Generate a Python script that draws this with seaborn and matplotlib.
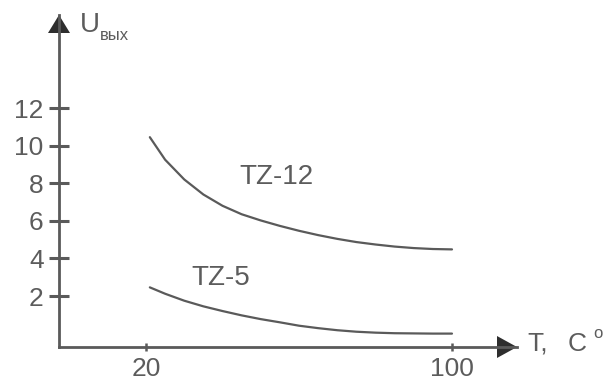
import matplotlib
matplotlib.use("Agg")
import matplotlib.pyplot as plt
from matplotlib.patches import Polygon
import seaborn as sns
import pandas as pd

# ---- data ----
temps = [21, 25, 30, 35, 40, 45, 50, 55, 60, 65, 70, 75, 80, 85, 90, 95, 100]
u_tz12 = [10.45, 9.25, 8.2, 7.4, 6.8, 6.35, 6.02, 5.73, 5.47, 5.24, 5.04, 4.87,
          4.74, 4.63, 4.55, 4.5, 4.48]
u_tz5 = [2.46, 2.12, 1.75, 1.45, 1.2, 0.97, 0.77, 0.6, 0.42, 0.29, 0.18, 0.1,
         0.05, 0.02, 0.01, 0.0, 0.0]
series_names = ["TZ-12", "TZ-5"]
y_ticks = [2, 4, 6, 8, 10, 12]
x_ticks = [20, 100]

df = pd.concat([
    pd.DataFrame({"T": temps, "U": u_tz12, "series": series_names[0]}),
    pd.DataFrame({"T": temps, "U": u_tz5, "series": series_names[1]}),
])

sns.set_style("white")
plt.rcParams["font.family"] = ["Liberation Sans", "DejaVu Sans"]

W, H = 609, 384
fig = plt.figure(figsize=(W / 100, H / 100), dpi=100)
ax = fig.add_axes([59 / W, 37 / H, 458 / W, 332 / H])

line_col = "#5a5a5a"
text_col = "#5c5c5c"

sns.lineplot(data=df, x="T", y="U", hue="series", units="series", estimator=None,
             palette={series_names[0]: line_col, series_names[1]: line_col},
             linewidth=1.6, legend=False, ax=ax, sort=False)

ax.set_xlim(-2.75, 117.0)
ax.set_ylim(-0.713, 16.95)
ax.set_xlabel("")
ax.set_ylabel("")

for s in ["top", "right"]:
    ax.spines[s].set_visible(False)
for s in ["left", "bottom"]:
    ax.spines[s].set_color(line_col)
    ax.spines[s].set_linewidth(2.0)

ax.set_yticks(y_ticks)
ax.set_yticklabels([str(v) for v in y_ticks])
ax.set_xticks(x_ticks)
ax.set_xticklabels([str(v) for v in x_ticks])
ax.tick_params(axis="y", direction="inout", length=14, width=2.2, color=line_col,
               pad=4, labelsize=19, labelcolor=text_col, left=True)
ax.tick_params(axis="x", direction="inout", length=6, width=1.8, color=line_col,
               pad=4, labelsize=19, labelcolor=text_col, bottom=True)

# arrow heads (axes fraction)
aw, ah = 458.0, 332.0
xarrow = Polygon([[1.0, 0.0], [1 - 20 / aw, 11 / ah], [1 - 20 / aw, -11 / ah]],
                 closed=True, transform=ax.transAxes, clip_on=False,
                 facecolor="#2e2e2e", edgecolor="none")
yarrow = Polygon([[0.0, 1.0], [-11 / aw, 1 - 18 / ah], [11 / aw, 1 - 18 / ah]],
                 closed=True, transform=ax.transAxes, clip_on=False,
                 facecolor="#2e2e2e", edgecolor="none")
ax.add_patch(xarrow)
ax.add_patch(yarrow)

# series labels
ax.text(54, 8.33, series_names[0], ha="center", va="center", fontsize=20, color=text_col)
ax.text(39.6, 2.96, series_names[1], ha="center", va="center", fontsize=20, color=text_col)

# axis titles
fig.text(527 / W, 1 - 344 / H, "T,", ha="left", va="center", fontsize=19, color=text_col)
fig.text(568 / W, 1 - 344 / H, "C", ha="left", va="center", fontsize=19, color=text_col)
fig.text(593 / W, 1 - 334 / H, "o", ha="left", va="center", fontsize=12, color=text_col)
fig.text(80 / W, 1 - 25 / H, "U", ha="left", va="center", fontsize=20, color=text_col)
fig.text(100 / W, 1 - 36 / H, "вых", ha="left", va="center", fontsize=12, color=text_col)

fig.savefig("out.png", dpi=100)
